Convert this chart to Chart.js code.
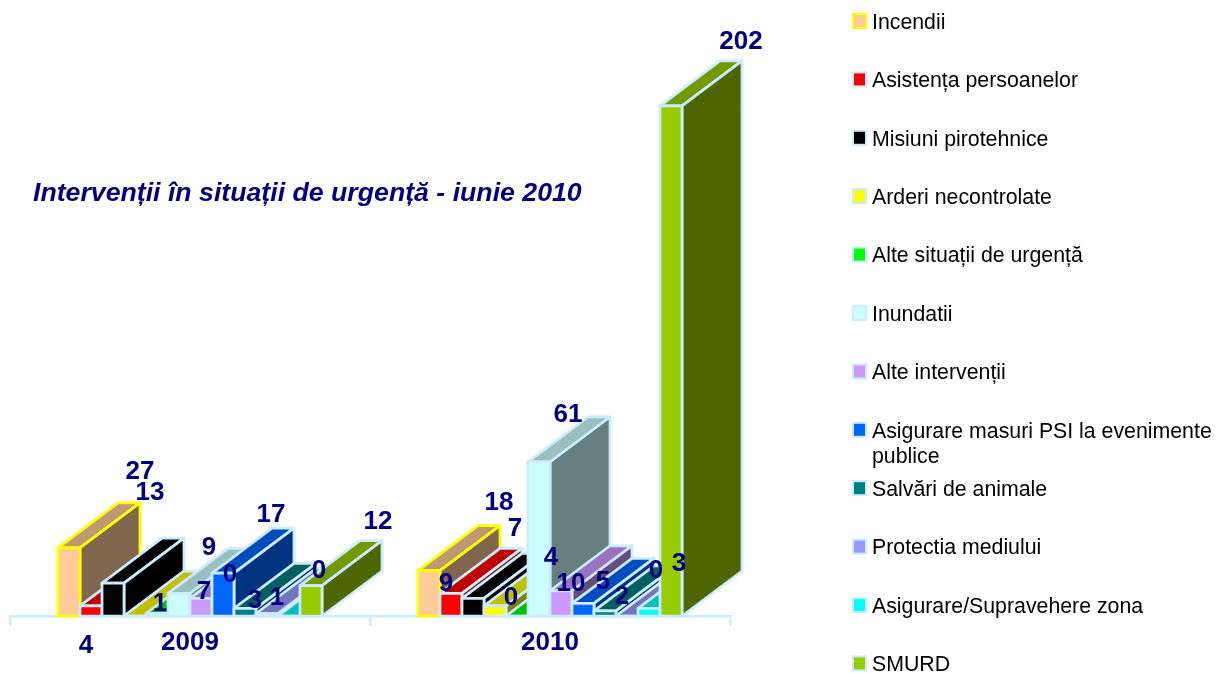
<!DOCTYPE html>
<html>
<head>
<meta charset="utf-8">
<title>Interventii</title>
<script src="https://cdn.jsdelivr.net/npm/chart.js@4"></script>
<style>
    html, body { margin: 0; padding: 0; background: #fff; overflow: hidden; }
    canvas { display: block; }
</style>
</head>
<body>
<canvas id="myChart" width="1217" height="673"></canvas>
<script>
const years = ['2009', '2010'];
const chartTitle = 'Intervenții în situații de urgență - iunie 2010';

const seriesNames = [
    'Incendii', 'Asistența persoanelor', 'Misiuni pirotehnice', 'Arderi necontrolate',
    'Alte situații de urgență', 'Inundatii', 'Alte intervenții',
    'Asigurare masuri PSI la evenimente publice', 'Salvări de animale',
    'Protectia mediului', 'Asigurare/Supravehere zona', 'SMURD'
];
const values2009 = [27, 4, 13, 0, 1, 9, 7, 17, 3, 1, 0, 12];
const values2010 = [18, 9, 7, 4, 0, 61, 10, 5, 2, 0, 3, 202];

// culori: fata, capac, lateral
const frontColors = ['#FFCC99', '#FF0000', '#000000', '#FFFF00', '#00FF00', '#CCFFFF', '#CC99FF', '#0066FF', '#008080', '#9999FF', '#00FFFF', '#99CC00'];
const topColors = ['#BF9973', '#C00000', '#000000', '#C0C000', '#00C000', '#99BFBF', '#9973BF', '#004DBF', '#006060', '#7373BF', '#00BFBF', '#739900'];
const sideColors = ['#80664D', '#800000', '#000000', '#808000', '#008000', '#668080', '#664D80', '#003380', '#004040', '#4D4D80', '#008080', '#4D6600'];
const edgeColors = ['#FFFF00', '#CCECFF', '#CCECFF', '#CCECFF', '#CCECFF', '#CCECFF', '#CCECFF', '#CCECFF', '#CCECFF', '#CCECFF', '#CCECFF', '#CCECFF'];

// etichetele au fost mutate manual in original, deci deplasare fata de varful barei
const labelShift2009 = [[71, -76], [-5, 40], [37, -90], [95, -41], [3, -10], [30, -45], [3, -6], [48, -58], [10, -8], [10, -16], [30, -45], [67, -64]];
const labelShift2010 = [[70, -68], [-5, -9], [42, -69], [56, -48], [-6, -18], [29, -47], [10, -7], [20, -22], [17, -14], [29, -45], [30, -45], [70, -64]];

const NAVY = '#000080';
const LIGHT = '#CCECFF';
const DEPTH_X = 60;
const DEPTH_Y = 45;
const ARIAL = '"Liberation Sans", Arial, sans-serif';

function face(ctx, pts, fill, stroke) {
    ctx.beginPath();
    ctx.moveTo(pts[0][0], pts[0][1]);
    pts.slice(1).forEach(p => ctx.lineTo(p[0], p[1]));
    ctx.closePath();
    ctx.fillStyle = fill;
    ctx.fill();
    ctx.lineWidth = 2.75;
    ctx.strokeStyle = stroke;
    ctx.stroke();
}

// bare 3D: capac, lateral, fata - pozitiile vin din elementele Chart.js
const bars3d = {
    id: 'bars3d',
    beforeDatasetsDraw(chart) {
        const ctx = chart.ctx;
        ctx.save();
        ctx.lineJoin = 'round';
        chart.data.datasets.forEach((ds, i) => {
            chart.getDatasetMeta(i).data.forEach(bar => {
                const l = bar.x - bar.width / 2;
                const r = bar.x + bar.width / 2;
                const t = bar.y;
                const b = bar.base;
                face(ctx, [[l, t], [r, t], [r + DEPTH_X, t - DEPTH_Y], [l + DEPTH_X, t - DEPTH_Y]], topColors[i], edgeColors[i]);
                face(ctx, [[r, t], [r + DEPTH_X, t - DEPTH_Y], [r + DEPTH_X, b - DEPTH_Y], [r, b]], sideColors[i], edgeColors[i]);
                face(ctx, [[l, t], [r, t], [r, b], [l, b]], frontColors[i], edgeColors[i]);
            });
        });
        ctx.restore();
        return false;
    },
    afterDraw(chart) {
        const ctx = chart.ctx;
        ctx.save();
        ctx.textAlign = 'center';
        ctx.textBaseline = 'middle';
        ctx.fillStyle = NAVY;
        ctx.font = 'bold 26px ' + ARIAL;
        chart.data.datasets.forEach((ds, i) => {
            chart.getDatasetMeta(i).data.forEach((bar, j) => {
                const shift = (j === 0 ? labelShift2009 : labelShift2010)[i];
                ctx.fillText(ds.data[j], bar.x + shift[0], bar.y + shift[1]);
            });
        });

        ctx.textAlign = 'left';
        ctx.font = 'italic bold 26.7px ' + ARIAL;
        ctx.fillText(chartTitle, 33, 194);

        // legenda
        ctx.font = '21.3px ' + ARIAL;
        chart.data.datasets.forEach((ds, i) => {
            const y = 21 + i * 58.4;
            ctx.fillStyle = edgeColors[i];
            ctx.fillRect(852, y - 8, 15, 16);
            ctx.fillStyle = frontColors[i];
            ctx.fillRect(854, y - 6, 11, 12);
            ctx.fillStyle = '#000000';
            let line = '';
            let lineY = y + 2;
            ds.label.split(' ').forEach(word => {
                const next = line ? line + ' ' + word : word;
                if (ctx.measureText(next).width > 345) {
                    ctx.fillText(line, 872, lineY);
                    line = word;
                    lineY += 25;
                } else {
                    line = next;
                }
            });
            ctx.fillText(line, 872, lineY);
        });
        ctx.restore();
    }
};

const config = {
    type: 'bar',
    data: {
        labels: years,
        datasets: seriesNames.map((name, i) => ({
            label: name,
            data: [values2009[i], values2010[i]],
            backgroundColor: frontColors[i],
            borderColor: edgeColors[i],
            borderWidth: 2
        }))
    },
    options: {
        responsive: false,
        animation: false,
        categoryPercentage: 0.7333,
        barPercentage: 1,
        layout: { padding: { top: 10, left: 10, right: 487, bottom: 0 } },
        scales: {
            x: {
                afterFit(scale) { scale.height = 57; },
                border: { color: LIGHT, width: 2.5 },
                grid: { color: LIGHT, lineWidth: 2.5, drawOnChartArea: false, tickLength: 10, offset: true },
                ticks: { color: NAVY, padding: 1, font: { family: ARIAL, size: 26, weight: 'bold' } }
            },
            y: { display: false, min: 0, max: 240 }
        },
        plugins: {
            legend: { display: false },
            title: { display: false },
            tooltip: { enabled: false }
        }
    },
    plugins: [bars3d]
};

const ctx = document.getElementById('myChart').getContext('2d');
const myChart = new Chart(ctx, config);
</script>
</body>
</html>
